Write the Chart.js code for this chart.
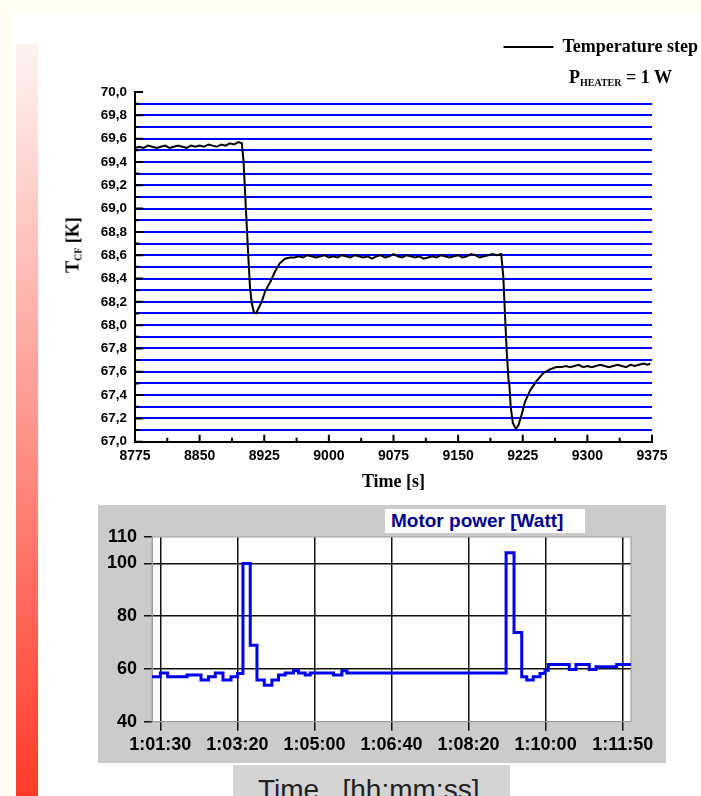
<!DOCTYPE html>
<html>
<head>
<meta charset="utf-8">
<title>Temperature step / motor power</title>
<script src="https://cdn.jsdelivr.net/npm/chart.js@4.4.1/dist/chart.umd.min.js"></script>
<style>
  body { margin: 0; width: 701px; height: 796px; overflow: hidden; position: relative; background: #fdfdf4; font-family: "Liberation Sans", Arial, sans-serif; }
  .abs { position: absolute; }
  #panel { left: 13px; top: 14px; right: 0; bottom: 0; background: #fff; }
  #bar { left: 16px; top: 44px; width: 22px; height: 752px; background: linear-gradient(#fdf4f2, #ff3a28); }
  #tempBox { left: 0; top: 0; width: 701px; height: 500px; }
  #heater { left: 569px; top: 68px; font: bold 18px "Liberation Serif", serif; line-height: 18px; white-space: nowrap; color: #000; }
  #heater sub { font-size: 10px; vertical-align: -3px; }
  #yTitle { left: 73px; top: 245px; transform: translate(-50%, -50%) rotate(-90deg); font: bold 18px "Liberation Serif", serif; white-space: nowrap; color: #000; }
  #yTitle sub { font-size: 10px; vertical-align: -3px; }
  #powerBox { left: 98px; top: 505px; width: 568px; height: 258px; background: #cbcbcb; }
  #powerLabel { left: 385px; top: 509px; width: 200px; height: 24px; background: #fff; color: #00008c; font: bold 19px "Liberation Sans", sans-serif; line-height: 24px; padding-left: 6px; box-sizing: border-box; white-space: nowrap; }
  #timeLabel { left: 233px; top: 765px; width: 277px; height: 31px; background: #d4d4d4; font: 28px "Liberation Sans", sans-serif; line-height: 28px; padding: 11px 0 0 25px; box-sizing: border-box; white-space: pre; color: #222; overflow: hidden; }
</style>
</head>
<body>
<div id="panel" class="abs"></div>
<div id="bar" class="abs"></div>
<div id="tempBox" class="abs"><canvas id="tempChart" width="701" height="500"></canvas></div>
<div id="heater" class="abs">P<sub>HEATER</sub> = 1 W</div>
<div id="yTitle" class="abs">T<sub>CF</sub> [K]</div>
<div id="powerBox" class="abs"><canvas id="powerChart" width="568" height="258"></canvas></div>
<div id="powerLabel" class="abs">Motor power [Watt]</div>
<div id="timeLabel" class="abs">Time   [hh:mm:ss]</div>

<script>
// top chart: temperature of the cold finger (time in s, temperature in K)
const timeSec = [
    8775, 8780, 8785, 8790, 8795, 8800, 8805, 8810, 8815, 8820,
    8825, 8830, 8835, 8840, 8845, 8850, 8855, 8860, 8865, 8870,
    8875, 8880, 8885, 8890, 8895,
    8899, 8901, 8903, 8905, 8906.5, 8908.5, 8910.5, 8913, 8915.5, 8918,
    8922, 8926, 8932, 8937.5, 8943, 8949, 8955,
    8960, 8965, 8970, 8975, 8980, 8985, 8990, 8995, 9000, 9005,
    9010, 9015, 9020, 9025, 9030, 9035, 9040, 9045, 9050, 9055,
    9060, 9065, 9070, 9075, 9080, 9085, 9090, 9095, 9100, 9105,
    9110, 9115, 9120, 9125, 9130, 9135, 9140, 9145, 9150, 9155,
    9160, 9165, 9170, 9175, 9180, 9185, 9190, 9195,
    9200, 9202.5, 9204.5, 9206.5, 9208.5, 9209.5, 9211, 9213.5, 9217, 9220,
    9224, 9227.5, 9233.5, 9241, 9249, 9256.5, 9264,
    9270, 9275, 9280, 9285, 9290, 9295, 9300, 9305, 9310, 9315,
    9320, 9325, 9330, 9335, 9340, 9345, 9350, 9355, 9360, 9365,
    9370, 9373
];
const tempK = [
    69.52, 69.53, 69.52, 69.54, 69.53, 69.52, 69.53, 69.54, 69.52, 69.53,
    69.54, 69.53, 69.52, 69.54, 69.53, 69.54, 69.53, 69.55, 69.54, 69.53,
    69.55, 69.54, 69.56, 69.55, 69.57,
    69.56, 69.40, 69.10, 68.81, 68.59, 68.32, 68.19, 68.11, 68.10, 68.14,
    68.20, 68.29, 68.37, 68.46, 68.53, 68.57, 68.58,
    68.58, 68.59, 68.58, 68.60, 68.59, 68.58, 68.59, 68.60, 68.58, 68.59,
    68.58, 68.60, 68.59, 68.58, 68.60, 68.59, 68.58, 68.59, 68.57, 68.59,
    68.60, 68.58, 68.59, 68.61, 68.59, 68.58, 68.60, 68.59, 68.58, 68.59,
    68.57, 68.58, 68.59, 68.58, 68.60, 68.59, 68.58, 68.59, 68.60, 68.58,
    68.59, 68.61, 68.60, 68.58, 68.59, 68.60, 68.61, 68.60,
    68.61, 68.41, 68.07, 67.76, 67.53, 67.49, 67.30, 67.16, 67.11, 67.14,
    67.24, 67.34, 67.44, 67.52, 67.59, 67.62, 67.64,
    67.64, 67.65, 67.64, 67.65, 67.66, 67.64, 67.65, 67.64, 67.65, 67.66,
    67.65, 67.64, 67.65, 67.66, 67.65, 67.64, 67.66, 67.65, 67.66, 67.67,
    67.66, 67.67
];

// bottom chart: motor power, x in axis divisions (one division per time label)
const timeLabels = ["1:01:30", "1:03:20", "1:05:00", "1:06:40", "1:08:20", "1:10:00", "1:11:50"];
const powerTicks = [40, 60, 80, 100, 110];
const powerPos = [
    -0.108, 0, 0.095, 0.346, 0.528, 0.626, 0.713, 0.813, 0.917, 1.002,
    1.072, 1.167, 1.254, 1.349, 1.448, 1.534, 1.621, 1.728, 1.793, 1.880,
    1.945, 2.247, 2.356, 2.421, 4.487, 4.590, 4.690, 4.755, 4.840, 4.927,
    4.992, 5.035, 5.307, 5.394, 5.567, 5.654, 5.922, 6.108
];
const powerW = [
    57, 58.5, 57, 57.7, 55.8, 57, 58.5, 55.8, 57, 58.3,
    100, 69, 55.8, 53.8, 55.8, 57.7, 58.5, 59.3, 58.5, 57.7,
    58.5, 57.7, 59.3, 58.5, 104, 73.8, 57, 55.8, 57, 58.3,
    59.5, 61.7, 59.8, 61.7, 59.8, 60.8, 61.7, 61.7
];

Chart.defaults.font.family = "'Liberation Sans', Arial, sans-serif";
Chart.defaults.color = "#000";

// tick marks pointing into the plot, like the origin graph
const innerTicks = {
    id: "innerTicks",
    afterDatasetsDraw(chart) {
        const { ctx, chartArea: a, scales: { x, y } } = chart;
        ctx.save();
        ctx.strokeStyle = "#000";
        ctx.lineWidth = 2;
        ctx.beginPath();
        x.ticks.forEach((t, i) => {
            const px = x.getPixelForValue(t.value);
            ctx.moveTo(px, a.bottom);
            ctx.lineTo(px, a.bottom - 7);
            if (i > 0) {
                const mx = x.getPixelForValue(t.value - 37.5);
                ctx.moveTo(mx, a.bottom);
                ctx.lineTo(mx, a.bottom - 4);
            }
        });
        y.ticks.forEach(t => {
            const py = y.getPixelForValue(t.value);
            ctx.moveTo(a.left, py);
            ctx.lineTo(a.left + (t.label !== "" ? 8 : 4), py);
        });
        ctx.stroke();
        ctx.restore();
    }
};

// the legend sits higher up, leaving room for the heater note below it
const legendLift = {
    id: "legendLift",
    afterLayout(chart) {
        chart.legend.top -= 26;
        chart.legend.bottom -= 26;
    }
};

// white plot area with a thin grey frame
const plotFrame = {
    id: "plotFrame",
    beforeDraw(chart) {
        const { ctx, chartArea: a } = chart;
        ctx.save();
        ctx.fillStyle = "#fff";
        ctx.fillRect(a.left, a.top, a.right - a.left, a.bottom - a.top);
        ctx.restore();
    },
    beforeDatasetsDraw(chart) {
        const { ctx, chartArea: a } = chart;
        ctx.save();
        ctx.strokeStyle = "#9c9c9c";
        ctx.lineWidth = 1;
        ctx.strokeRect(a.left, a.top, a.right - a.left, a.bottom - a.top);
        ctx.restore();
    }
};

function loadTempChart() {
    new Chart(document.getElementById("tempChart"), {
        type: "line",
        data: {
            datasets: [{
                label: "Temperature step",
                data: timeSec.map((t, i) => ({ x: t, y: tempK[i] })),
                borderColor: "#000",
                backgroundColor: "#000",
                borderWidth: 2,
                pointRadius: 0,
                fill: false,
                tension: 0
            }]
        },
        options: {
            responsive: false,
            animation: false,
            layout: { padding: { top: 33 } },
            plugins: {
                legend: {
                    position: "top",
                    align: "end",
                    labels: {
                        usePointStyle: true,
                        pointStyle: "line",
                        pointStyleWidth: 50,
                        padding: 3,
                        color: "#000",
                        font: { family: "'Liberation Serif', serif", weight: "bold", size: 18 }
                    }
                },
                tooltip: { enabled: false }
            },
            scales: {
                x: {
                    type: "linear",
                    min: 8775,
                    max: 9375,
                    afterFit: s => { s.height = 58.3; s.paddingRight = 49; },
                    grid: { display: false, drawTicks: false },
                    border: { color: "#000", width: 2 },
                    ticks: {
                        stepSize: 75,
                        autoSkip: false,
                        maxRotation: 0,
                        padding: 6,
                        font: { weight: "bold", size: 14 },
                        callback: v => String(v)
                    },
                    title: {
                        display: true,
                        text: "Time [s]",
                        color: "#000",
                        font: { family: "'Liberation Serif', serif", weight: "bold", size: 18 },
                        padding: { top: 0, bottom: 7 }
                    }
                },
                y: {
                    min: 67,
                    max: 70,
                    afterFit: s => { s.width = 135; s.paddingTop = 92; },
                    grid: {
                        color: c => c.tick.value > 69.95 ? "rgba(0,0,0,0)" : "#0000ff",
                        lineWidth: 2,
                        drawTicks: false
                    },
                    border: { color: "#000", width: 2 },
                    ticks: {
                        stepSize: 0.1,
                        autoSkip: false,
                        padding: 8,
                        font: { weight: "bold", size: 13.5 },
                        callback: v => Math.round(v * 10) % 2 === 0 ? v.toFixed(1).replace(".", ",") : ""
                    }
                }
            }
        },
        plugins: [innerTicks, legendLift]
    });
}

function loadPowerChart() {
    new Chart(document.getElementById("powerChart"), {
        type: "line",
        data: {
            datasets: [{
                label: "Motor power [Watt]",
                data: powerPos.map((p, i) => ({ x: p, y: powerW[i] })),
                stepped: "before",
                borderColor: "#0000ee",
                borderWidth: 3,
                pointRadius: 0,
                fill: false
            }]
        },
        options: {
            responsive: false,
            animation: false,
            layout: { padding: { top: 32, right: 35 } },
            plugins: {
                legend: { display: false },
                tooltip: { enabled: false }
            },
            scales: {
                x: {
                    type: "linear",
                    min: -0.108,
                    max: 6.108,
                    afterFit: s => { s.height = 41.3; },
                    grid: { color: "#111", lineWidth: 1.5, tickColor: "#111", tickLength: 9, tickWidth: 1.5 },
                    border: { color: "#9c9c9c", width: 1 },
                    ticks: {
                        stepSize: 1,
                        includeBounds: false,
                        autoSkip: false,
                        maxRotation: 0,
                        padding: 4,
                        font: { weight: "bold", size: 18 },
                        callback: v => timeLabels[v]
                    }
                },
                y: {
                    min: 40,
                    max: 110,
                    afterFit: s => { s.width = 54; },
                    afterBuildTicks: s => { s.ticks = powerTicks.map(v => ({ value: v })); },
                    grid: {
                        color: c => (c.tick.value === 40 || c.tick.value === 110) ? "rgba(0,0,0,0)" : "#111",
                        lineWidth: 1.5,
                        tickColor: "#111",
                        tickLength: 8,
                        tickWidth: 1.5
                    },
                    border: { color: "#9c9c9c", width: 1 },
                    ticks: {
                        autoSkip: false,
                        padding: 7,
                        font: { weight: "bold", size: 18 }
                    }
                }
            }
        },
        plugins: [plotFrame]
    });
}

loadTempChart();
loadPowerChart();
</script>
</body>
</html>
